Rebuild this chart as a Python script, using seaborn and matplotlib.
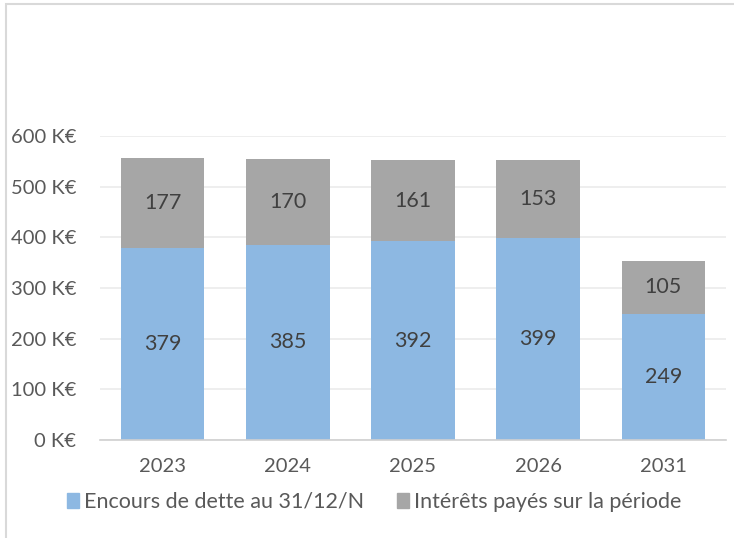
import numpy as np
import pandas as pd
import matplotlib.pyplot as plt
import seaborn as sns
from matplotlib.patches import Patch, Rectangle

# ── Data ─────────────────────────────────────────────────────────────────────
years    = ["2023", "2024", "2025", "2026", "2031"]
encours  = [379, 385, 392, 399, 249]
interets = [177, 170, 161, 153, 105]
yticks   = [0, 100, 200, 300, 400, 500, 600]

BLUE = "#8DB8E2"
GREY = "#A6A6A6"
TXT  = "#595959"

sns.set_style("white")
plt.rcParams["font.family"] = ["Lato", "DejaVu Sans"]

df = pd.DataFrame({"annee": years, "encours": encours, "interets": interets})
df["total"] = df["encours"] + df["interets"]

fig = plt.figure(figsize=(7.34, 5.38), dpi=100)
ax = fig.add_axes([0.1362, 0.1822, 0.8528, 0.5650])

# stacked bars: total in grey, then the debt part in blue on top of it
sns.barplot(data=df, x="annee", y="total", color=GREY, width=0.667,
            saturation=1, linewidth=0, ax=ax, zorder=2)
sns.barplot(data=df, x="annee", y="encours", color=BLUE, width=0.667,
            saturation=1, linewidth=0, ax=ax, zorder=3)

for i, row in df.iterrows():
    ax.text(i, row["encours"] / 2, f"{row['encours']}", ha="center", va="center",
            fontsize=15.5, color="#404040", zorder=4)
    ax.text(i, row["encours"] + row["interets"] / 2, f"{row['interets']}",
            ha="center", va="center", fontsize=15.5, color="#404040", zorder=4)

ax.set_ylim(0, 600)
ax.set_xlim(-0.5, len(years) - 0.5)
ax.set_yticks(yticks)
ax.set_yticklabels([f"{v} K€" for v in yticks])
ax.tick_params(axis="both", length=0, labelsize=14.5, labelcolor=TXT)
ax.tick_params(axis="y", pad=17)
ax.tick_params(axis="x", pad=13)
ax.set_xlabel(""); ax.set_ylabel("")
ax.grid(axis="y", color="#EBEBEB", lw=1.2, zorder=0)
for s in ["top", "right", "left"]:
    ax.spines[s].set_visible(False)
ax.spines["bottom"].set_color("#D0D0D0")
ax.spines["bottom"].set_linewidth(1.2)
ax.spines["bottom"].set_zorder(5)

handles = [Patch(color=BLUE, label="Encours de dette au 31/12/N"),
           Patch(color=GREY, label="Intérêts payés sur la période")]
fig.legend(handles=handles, loc="center", bbox_to_anchor=(0.51, 0.067),
           ncol=2, frameon=False, fontsize=15.5, labelcolor=TXT,
           handlelength=0.55, handleheight=0.75, handletextpad=0.25,
           columnspacing=1.5)

# chart frame (cropped on the right and bottom)
fig.patches.append(Rectangle((6 / 734, -0.05), 1.2, 1 - 4 / 538 + 0.05,
                             transform=fig.transFigure, fill=False,
                             edgecolor="#D9D9D9", lw=1.5))

fig.savefig("out.png", dpi=100)
